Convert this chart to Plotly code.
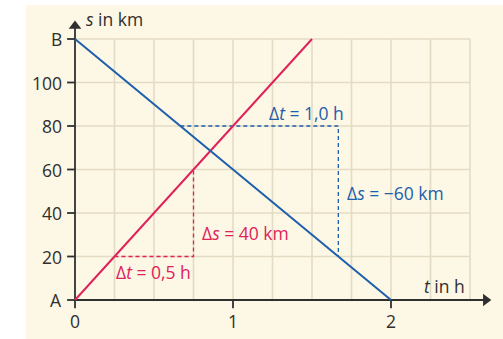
import plotly.graph_objects as go

# Data: two motions on a distance-time chart
t_red = [0, 1.5]
s_red = [0, 120]
t_blue = [0, 2]
s_blue = [120, 0]

# Slope triangles
red_tri_t = [0.25, 0.75, 0.75]
red_tri_s = [20, 20, 60]
blue_tri_t = [2 / 3, 5 / 3, 5 / 3]
blue_tri_s = [80, 80, 20]

y_ticks = [0, 20, 40, 60, 80, 100, 120]
y_tick_labels = ["A", "20", "40", "60", "80", "100", "B"]
x_ticks = [0, 1, 2]
x_tick_labels = ["0", "1", "2"]

grid_t = [0.25 * i for i in range(1, 11)]
grid_s = [20, 40, 60, 80, 100, 120]

RED = "#e0225a"
BLUE = "#1d5fab"
AXIS = "#2f2f2f"
GRID = "#e4dbc4"
CREAM = "#fdf7e5"
FONT = "Open Sans"
FS = 17.5


def font(color):
    return dict(size=FS, color=color, family=FONT, weight=500)


fig = go.Figure()

# grid
gx, gy = [], []
for t in grid_t:
    gx += [t, t, None]
    gy += [0, 120, None]
for s in grid_s:
    gx += [0, 2.5, None]
    gy += [s, s, None]
fig.add_trace(go.Scatter(x=gx, y=gy, mode="lines",
                         line=dict(color=GRID, width=1.6), hoverinfo="skip"))

# axes with tick marks
ax_x, ax_y = [], []
for s in y_ticks:
    ax_x += [-0.05, 0, None]
    ax_y += [s, s, None]
for t in x_ticks:
    ax_x += [t, t, None]
    ax_y += [0, -3.8, None]
ax_x += [0, 2.6, None, 0, 0]
ax_y += [0, 0, None, 0, 126]
fig.add_trace(go.Scatter(x=ax_x, y=ax_y, mode="lines",
                         line=dict(color=AXIS, width=1.8), hoverinfo="skip"))
fig.add_trace(go.Scatter(x=[2.6], y=[0], mode="markers",
                         marker=dict(symbol="triangle-right", size=11, color=AXIS),
                         hoverinfo="skip"))
fig.add_trace(go.Scatter(x=[0], y=[126], mode="markers",
                         marker=dict(symbol="triangle-up", size=11, color=AXIS),
                         hoverinfo="skip"))

# slope triangles (dashed)
fig.add_trace(go.Scatter(x=red_tri_t, y=red_tri_s, mode="lines",
                         line=dict(color=RED, width=1.3, dash="4px,3px"), hoverinfo="skip"))
fig.add_trace(go.Scatter(x=blue_tri_t, y=blue_tri_s, mode="lines",
                         line=dict(color=BLUE, width=1.3, dash="4px,3px"), hoverinfo="skip"))

# motion lines
fig.add_trace(go.Scatter(x=t_red, y=s_red, mode="lines",
                         line=dict(color=RED, width=2), hoverinfo="skip"))
fig.add_trace(go.Scatter(x=t_blue, y=s_blue, mode="lines",
                         line=dict(color=BLUE, width=2), hoverinfo="skip"))

ann = []
for s, lab in zip(y_ticks, y_tick_labels):
    ann.append(dict(x=-0.07, y=s, text=lab, xanchor="right", yanchor="middle",
                    showarrow=False, font=font(AXIS)))
for t, lab in zip(x_ticks, x_tick_labels):
    ann.append(dict(x=t, y=-9.5, text=lab, xanchor="center", yanchor="middle",
                    showarrow=False, font=font(AXIS)))
ann.append(dict(x=0.06, y=129, text="<i>s</i> in km", xanchor="left", yanchor="middle",
                showarrow=False, font=font(AXIS)))
ann.append(dict(x=2.48, y=6.5, text="<i>t</i> in h", xanchor="right", yanchor="middle",
                showarrow=False, font=font(AXIS)))
ann.append(dict(x=0.245, y=13, text="Δ<i>t</i> = 0,5 h", xanchor="left", yanchor="middle",
                showarrow=False, font=font(RED)))
ann.append(dict(x=0.79, y=31, text="Δ<i>s</i> = 40 km", xanchor="left", yanchor="middle",
                showarrow=False, font=font(RED)))
ann.append(dict(x=1.715, y=86, text="Δ<i>t</i> = 1,0 h", xanchor="right", yanchor="middle",
                showarrow=False, font=font(BLUE)))
ann.append(dict(x=1.71, y=49, text="Δ<i>s</i> = −60 km", xanchor="left", yanchor="middle",
                showarrow=False, font=font(BLUE)))

fig.update_layout(
    width=503, height=339, autosize=False,
    margin=dict(l=0, r=0, t=0, b=0),
    paper_bgcolor="white", plot_bgcolor="rgba(0,0,0,0)",
    showlegend=False,
    xaxis=dict(range=[-75 / 158, 428 / 158], visible=False, fixedrange=True),
    yaxis=dict(range=[-39 / 2.175, 300 / 2.175], visible=False, fixedrange=True),
    annotations=ann,
    shapes=[dict(type="rect", xref="paper", yref="paper", x0=26 / 503, x1=1,
                 y0=0, y1=(339 - 5) / 339, fillcolor=CREAM, line=dict(width=0),
                 layer="below")],
)

fig.write_html("out.html")
